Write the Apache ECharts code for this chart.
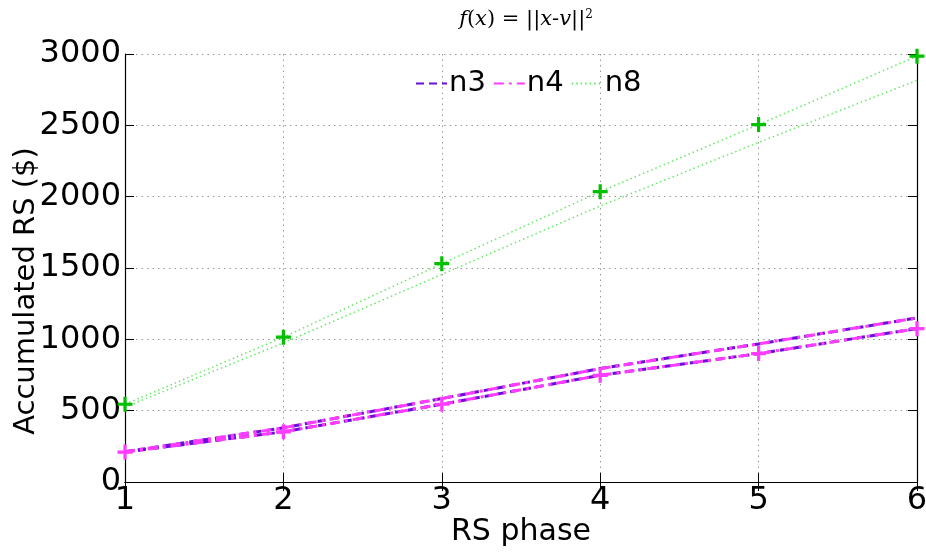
<!DOCTYPE html>
<html><head><meta charset="utf-8">
<script src="https://cdn.jsdelivr.net/npm/echarts@6/dist/echarts.min.js"></script>
<style>html,body{margin:0;padding:0;background:#fff}#c{width:926px;height:553px}</style>
</head><body><div id="c"></div>
<script>
const phases = [1, 2, 3, 4, 5, 6];
const yTicks = [0, 500, 1000, 1500, 2000, 2500, 3000];
const n3Upper = [212, 380, 585, 795, 968, 1150];
const n3Lower = [210, 352, 545, 748, 900, 1075];
const n4Upper = [212, 380, 585, 795, 968, 1150];
const n4Lower = [210, 352, 545, 748, 900, 1075];
const n8Upper = [545, 1015, 1530, 2035, 2505, 2985];
const n8Lower = [525, 975, 1455, 1935, 2380, 2815];

const PURPLE = '#6a0fd8', MAGENTA = '#ff3cff', GREEN = '#66e866', GREEN_M = '#00c000';
const plus = 'path://M-1.5,-7 h3 v5.5 h5.5 v3 h-5.5 v5.5 h-3 v-5.5 h-5.5 v-3 h5.5z';
const pts = arr => phases.map((p, i) => [p, arr[i]]);
const FONT = 'DejaVu Sans';

function line(name, data, color, type, width, marker, mcolor) {
  return {
    name, type: 'line', data: pts(data), xAxisIndex: 0, yAxisIndex: 0,
    lineStyle: { color, type, width },
    itemStyle: { color: mcolor || color },
    symbol: marker ? plus : 'none', symbolSize: 15, showSymbol: !!marker,
    animation: false, silent: true, z: 3
  };
}

const chart = echarts.init(document.getElementById('c'));
const axisLine = { show: true, lineStyle: { color: '#000', width: 1.2 } };
const tickIn = { show: true, inside: true, length: 9, lineStyle: { color: '#000' } };
chart.setOption({
  animation: false,
  title: {
    text: '{i|f}{n|(}{i|x}{n|) = ||}{i|x}{n|-}{i|v}{n|||}{s|2}',
    left: 521, top: 4, textAlign: 'center',
    textStyle: { fontWeight: 'normal', rich: {
      i: { fontFamily: 'DejaVu Serif', fontStyle: 'italic', fontWeight: 'normal', fontSize: 21, color: '#000' },
      n: { fontFamily: 'DejaVu Serif', fontWeight: 'normal', fontSize: 21, color: '#000' },
      s: { fontFamily: 'DejaVu Serif', fontWeight: 'normal', fontSize: 12, color: '#000', verticalAlign: 'top', padding: [0,0,10,0] }
    } }
  },
  legend: {
    data: ['n3', 'n4', 'n8'], left: 410, top: 64, itemGap: 7, itemWidth: 31, itemHeight: 14,
    itemStyle: { opacity: 0 },
    textStyle: { fontFamily: FONT, fontSize: 29, color: '#000', padding: [0, 0, 0, -3] }
  },
  grid: { left: 125, right: 9, top: 54, bottom: 71, outerBoundsMode: 'none', containLabel: false },
  xAxis: [{
    type: 'value', min: 1, max: 6, interval: 1, position: 'bottom',
    name: 'RS phase', nameLocation: 'middle', nameGap: 35, nameMoveOverlap: false,
    nameTextStyle: { fontFamily: FONT, fontSize: 30, color: '#000' },
    axisLine, axisTick: tickIn,
    axisLabel: { fontFamily: FONT, fontSize: 32, color: '#000', margin: 3 },
    splitLine: { show: true, lineStyle: { color: '#999', type: [1.5, 4], width: 1 } }
  }, {
    type: 'value', min: 1, max: 6, interval: 1, position: 'top',
    axisLine, axisTick: tickIn, axisLabel: { show: false }, splitLine: { show: false }
  }],
  yAxis: [{
    type: 'value', min: 0, max: 3000, interval: 500, position: 'left',
    name: 'Accumulated RS ($)', nameLocation: 'middle', nameGap: 84, nameMoveOverlap: false,
    nameTextStyle: { fontFamily: FONT, fontSize: 29, color: '#000', padding: [0, 46, 0, 0] },
    axisLine, axisTick: tickIn,
    axisLabel: { fontFamily: FONT, fontSize: 32, color: '#000', margin: 4, formatter: v => yTicks.includes(v) ? String(v) : '' },
    splitLine: { show: true, lineStyle: { color: '#999', type: [1.5, 4], width: 1 } }
  }, {
    type: 'value', min: 0, max: 3000, interval: 500, position: 'right',
    axisLine, axisTick: tickIn, axisLabel: { show: false }, splitLine: { show: false }
  }],
  series: [
    line('n3', n3Upper, PURPLE, [8, 5], 3, false),
    line('n3b', n3Lower, PURPLE, [8, 5], 3, false),
    line('n4', n4Upper, MAGENTA, [10, 5, 3, 5], 3, false),
    line('n4b', n4Lower, MAGENTA, [10, 5, 3, 5], 3, true, MAGENTA),
    line('n8', n8Lower, GREEN, [1.5, 3], 1.5, false),
    line('n8b', n8Upper, GREEN, [1.5, 3], 1.5, true, GREEN_M)
  ]
});
</script></body></html>
